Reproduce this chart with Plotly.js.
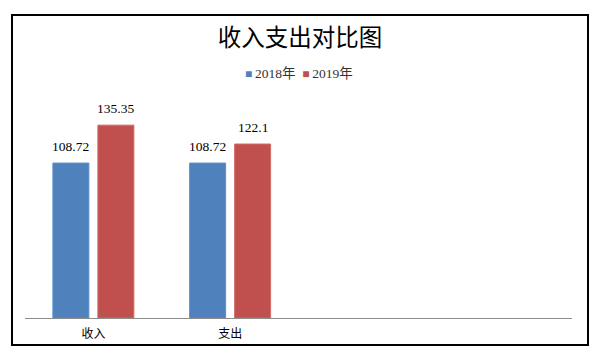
<!DOCTYPE html>
<html>
<head>
<meta charset="utf-8">
<script src="https://cdn.plot.ly/plotly-3.0.1.min.js"></script>
<style>html,body{margin:0;padding:0;background:#fff;}#chart{width:600px;height:357px;}</style>
</head>
<body>
<div id="chart"></div>
<script>
const categories = ["收入", "支出"];
const slots = ["收入", "支出", "_3", "_4"];
const series2018 = [108.72, 108.72];
const series2019 = [135.35, 122.1];
const seriesNames = ["2018年", "2019年"];
const labels2018 = ["108.72", "108.72"];
const labels2019 = ["135.35", "122.1"];
const colors = ["#4F81BD", "#C0504D"];

const serif = "'Liberation Serif', 'Noto Sans CJK SC', serif";
const traces = [
  {type: "bar", name: seriesNames[0], x: categories, y: series2018,
   marker: {color: colors[0], line: {color: "#5B8FCC", width: 1}}},
  {type: "bar", name: seriesNames[1], x: categories, y: series2019,
   marker: {color: colors[1], line: {color: "#D46A67", width: 1}}}
];

// value labels as annotations, placed from the data values
const annotations = [];
const offsets = [-0.5, 0.5];
[[series2018, labels2018], [series2019, labels2019]].forEach(([vals, labs], s) => {
  vals.forEach((v, i) => {
    annotations.push({x: i + offsets[s] * (45 / 136.75), y: v, xref: "x", yref: "y",
      text: labs[i], showarrow: false, yanchor: "bottom", yshift: 7,
      font: {family: serif, size: 13.5, color: "#000"}});
  });
});
// legend row
annotations.push({xref: "paper", yref: "paper", x: (299 - 25) / 547, y: (318 - 73) / 228,
  xanchor: "center", yanchor: "middle", showarrow: false,
  text: seriesNames.map((n, k) => `<span style="color:${colors[k]};font-size:12px">■</span>\u2009${n}`).join("\u2002"),
  font: {family: serif, size: 13.5, color: "#333"}});

const layout = {
  width: 600, height: 357,
  margin: {l: 25, r: 28, t: 90, b: 39},
  paper_bgcolor: "#fff", plot_bgcolor: "#fff",
  font: {family: serif, color: "#000"},
  title: {text: "收入支出对比图", x: 0.5, xanchor: "center", y: 1 - 38/357, yref: "container", yanchor: "middle",
          font: {family: "'Noto Sans CJK SC', sans-serif", size: 23.5, color: "#000"}},
  barmode: "group", bargap: 0.342, bargroupgap: 0.2,
  showlegend: false,
  xaxis: {type: "category", categoryorder: "array", categoryarray: slots, range: [-0.5, 3.5],
          showline: true, linecolor: "#8c8c8c", linewidth: 1, ticks: "", showgrid: false, zeroline: false,
          tickvals: categories, ticktext: categories, ticklabelstandoff: 5,
          tickfont: {family: "'Noto Sans CJK SC', sans-serif", size: 12, color: "#000"}, fixedrange: true},
  yaxis: {range: [0, 160], visible: false, showgrid: false, zeroline: false, fixedrange: true},
  annotations: annotations,
  shapes: [{type: "rect", xref: "paper", yref: "paper",
            x0: (12 - 25) / 547, x1: (588 - 25) / 547,
            y0: (318 - 345) / 228, y1: (318 - 15) / 228,
            line: {color: "#000", width: 2}, fillcolor: "rgba(0,0,0,0)"}]
};

Plotly.newPlot("chart", traces, layout, {displayModeBar: false, staticPlot: true});
</script>
</body>
</html>
